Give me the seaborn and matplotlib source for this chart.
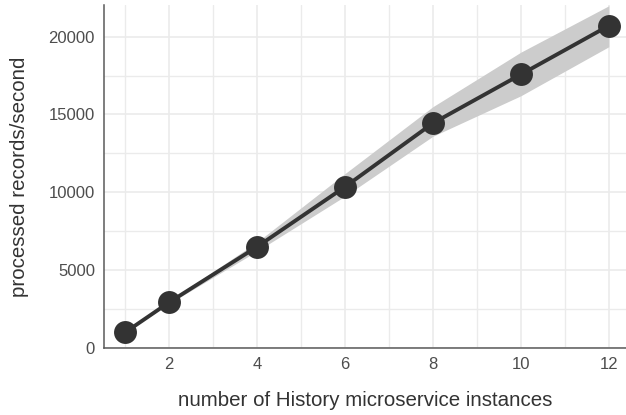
import pandas as pd
import matplotlib.pyplot as plt
import seaborn as sns

# throughput vs. number of History microservice instances
instances = [1, 2, 4, 6, 8, 10, 12]
records_per_sec = [1000, 2930, 6500, 10350, 14440, 17570, 20700]
lower = [1000, 2850, 6220, 9750, 13600, 16200, 19350]
upper = [1000, 3020, 6800, 11200, 15500, 19000, 21980]

df = pd.DataFrame({'instances': instances, 'rps': records_per_sec,
                   'lo': lower, 'hi': upper})

sns.set_theme(style='whitegrid')
plt.rcParams['font.family'] = ['Liberation Sans', 'DejaVu Sans']

fig = plt.figure(figsize=(6.26, 4.15), dpi=100)
ax = fig.add_axes([0.1661, 0.1614, 0.8339, 0.8266])

# confidence band
ax.fill_between(df['instances'], df['lo'], df['hi'], color='#cccccc',
                linewidth=0, zorder=2)
sns.lineplot(x='instances', y='rps', data=df, ax=ax, color='#333333',
             linewidth=2.8, marker='o', markersize=16.5, markeredgewidth=0,
             zorder=3)

ax.set_xlim(0.52, 12.39)
ax.set_ylim(0, 22030)
ax.set_xticks([2, 4, 6, 8, 10, 12])
ax.set_yticks([0, 5000, 10000, 15000, 20000])
ax.set_xticks([1, 3, 5, 7, 9, 11], minor=True)
ax.set_yticks([2500, 7500, 12500, 17500], minor=True)

ax.grid(which='major', color='#ebebeb', linewidth=1.2)
ax.grid(which='minor', color='#ebebeb', linewidth=1.0)
ax.set_axisbelow(True)

for side in ['top', 'right']:
    ax.spines[side].set_visible(False)
for side in ['left', 'bottom']:
    ax.spines[side].set_visible(True)
    ax.spines[side].set_color('#5a5a5a')
    ax.spines[side].set_linewidth(1.1)

ax.tick_params(which='both', length=0, labelsize=12, labelcolor='#4d4d4d',
               pad=6.5)
ax.set_xlabel('number of History microservice instances', fontsize=14.8,
              color='#333333', labelpad=14)
ax.set_ylabel('processed records/second', fontsize=14.8, color='#333333',
              labelpad=14)

fig.savefig('out.png', dpi=100)
